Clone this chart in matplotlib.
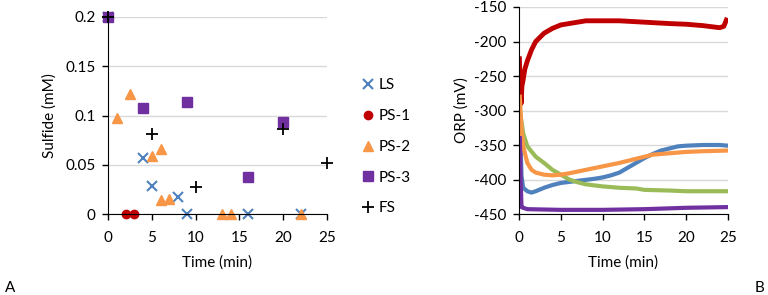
import numpy as np
import matplotlib.pyplot as plt

plt.rcParams['font.family'] = ['Lato', 'DejaVu Sans']
plt.rcParams['axes.unicode_minus'] = False

# panel A: sulfide vs time
ls_t = [0, 4, 5, 8, 9, 16, 22]
ls_s = [0.2, 0.057, 0.028, 0.017, 0, 0, 0]
ps1_t = [2, 3]
ps1_s = [0, 0]
ps2_t = [1, 2.5, 5, 6, 6, 7, 13, 14, 22]
ps2_s = [0.097, 0.122, 0.059, 0.066, 0.014, 0.015, 0, 0, 0]
ps3_t = [0, 4, 9, 16, 20]
ps3_s = [0.2, 0.108, 0.114, 0.038, 0.093]
fs_t = [0, 5, 10, 20, 25]
fs_s = [0.2, 0.081, 0.027, 0.086, 0.052]

# panel B: ORP traces
red_t = [0.05, 0.15, 0.25, 0.35, 0.5, 0.7, 1, 1.5, 2, 3, 4, 5, 6, 8, 10, 12, 15, 18, 20, 22, 24, 24.5, 24.8]
red_v = [-225, -270, -290, -265, -255, -240, -228, -212, -200, -188, -181, -176, -174, -170, -170, -170, -172, -174, -175, -177, -180, -178, -169]
blue_t = [0.1, 0.3, 0.5, 1, 1.5, 2, 3, 4, 5, 7, 9, 10, 11, 12, 13, 14, 15, 16, 17, 18, 19, 20, 22, 24, 25]
blue_v = [-310, -395, -412, -417, -419, -417, -412, -408, -405, -402, -399, -397, -394, -390, -383, -376, -369, -363, -358, -355, -352, -351, -350, -350, -351]
orange_t = [0.1, 0.3, 0.5, 1, 1.5, 2, 3, 4, 5, 6, 8, 10, 12, 14, 15, 16, 18, 20, 22, 25]
orange_v = [-280, -328, -352, -376, -386, -390, -393, -394, -393, -391, -386, -381, -376, -370, -367, -364, -362, -360, -359, -358]
green_t = [0.1, 0.5, 1, 2, 3, 4, 5, 6, 7, 8, 10, 12, 14, 15, 18, 20, 25]
green_v = [-300, -333, -352, -367, -376, -386, -393, -400, -404, -407, -410, -412, -413, -415, -416, -417, -417]
purple_t = [0.1, 0.2, 0.3, 0.5, 1, 5, 10, 15, 20, 25]
purple_v = [-340, -400, -440, -441, -443, -444, -444, -443, -441, -440]

c_blue = '#4F81BD'
c_red = '#C00000'
c_orange = '#F79646'
c_purple = '#7030A0'
c_green = '#9BBB59'

fig = plt.figure(figsize=(7.68, 2.95), dpi=100)

def style(ax):
    ax.spines['top'].set_visible(False)
    ax.spines['right'].set_visible(False)
    ax.spines['left'].set_color('black')
    ax.spines['bottom'].set_color('black')
    ax.yaxis.grid(True, color='#D9D9D9', lw=1)
    ax.set_axisbelow(True)
    ax.tick_params(direction='out', length=4, width=1, labelsize=11, colors='black')
    ax.tick_params(axis='x', pad=8)
    ax.tick_params(axis='y', pad=5)

axA = fig.add_axes([108/768, 1-214/295, 219/768, 197/295])
style(axA)
axA.plot(ls_t, ls_s, 'x', color=c_blue, ms=7, mew=1.5, label='LS', clip_on=False)
axA.plot(ps1_t, ps1_s, 'o', color=c_red, ms=6, label='PS-1', clip_on=False)
axA.plot(ps2_t, ps2_s, '^', color=c_orange, ms=7, label='PS-2', clip_on=False)
axA.plot(ps3_t, ps3_s, 's', color=c_purple, ms=7, label='PS-3', clip_on=False)
axA.plot(fs_t, fs_s, '+', color='black', ms=8, mew=1.3, label='FS', clip_on=False)
axA.set_xlim(0, 25)
axA.set_ylim(0, 0.2)
axA.set_xticks([0, 5, 10, 15, 20, 25])
axA.set_yticks([0, 0.05, 0.1, 0.15, 0.2])
axA.set_yticklabels(['0', '0.05', '0.1', '0.15', '0.2'])
axA.set_xlabel('Time (min)', fontsize=11, labelpad=8)
axA.set_ylabel('Sulfide (mM)', fontsize=11, labelpad=6)
axA.legend(loc='upper left', bbox_to_anchor=(1.13, 0.72), frameon=False, fontsize=11,
           handlelength=0.8, handletextpad=0.3, labelspacing=1.1, borderaxespad=0)

axB = fig.add_axes([519/768, 1-214/295, 209/768, 207/295])
style(axB)
axB.plot(red_t, red_v, color=c_red, lw=3.5)
axB.plot(blue_t, blue_v, color=c_blue, lw=3)
axB.plot(green_t, green_v, color=c_green, lw=3)
axB.plot(orange_t, orange_v, color=c_orange, lw=3)
axB.plot(purple_t, purple_v, color=c_purple, lw=3)
axB.set_xlim(0, 25)
axB.set_ylim(-450, -150)
axB.set_xticks([0, 5, 10, 15, 20, 25])
axB.set_yticks(np.arange(-450, -149, 50))
axB.set_xlabel('Time (min)', fontsize=11, labelpad=8)
axB.set_ylabel('ORP (mV)', fontsize=11, labelpad=4)

fig.text(5/768, 1-288/295, 'A', fontsize=11, va='center')
fig.text(755/768, 1-288/295, 'B', fontsize=11, va='center')

fig.savefig('out.png', dpi=100)
